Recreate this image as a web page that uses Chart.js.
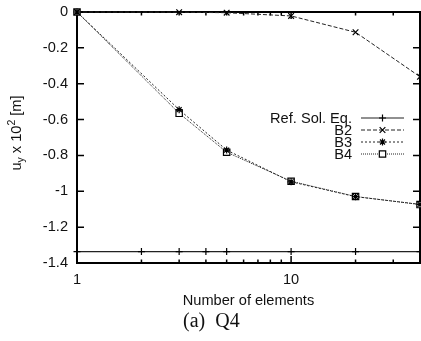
<!DOCTYPE html>
<html>
<head>
<meta charset="utf-8">
<script src="https://cdn.jsdelivr.net/npm/chart.js@4"></script>
<style>
  html, body { margin: 0; padding: 0; background: #fff; }
  canvas { display: block; }
</style>
</head>
<body>
<canvas id="c" width="421" height="341"></canvas>
<script>
// ---- data ----
const xElements = [1, 3, 5, 10, 20, 40];
const refX = [1, 2, 3, 4, 5, 10, 20, 40];
const refY = [-1.336, -1.336, -1.336, -1.336, -1.336, -1.336, -1.336, -1.336];
const b2Y = [0, -0.001, -0.004, -0.022, -0.113, -0.361];
const b3Y = [0, -0.545, -0.770, -0.947, -1.030, -1.073];
const b4Y = [0, -0.565, -0.782, -0.944, -1.029, -1.074];
const seriesLabels = ['Ref. Sol. Eq.', 'B2', 'B3', 'B4'];
const xTickValues = [1, 2, 3, 4, 5, 6, 7, 8, 9, 10, 20, 30, 40];
const xMajorTicks = [1, 10];
const xTickLabels = ['1', '', '', '', '', '', '', '', '', '10', '', '', ''];
const yTickValues = [0, -0.2, -0.4, -0.6, -0.8, -1.0, -1.2, -1.4];
const yTickLabels = ['0', '-0.2', '-0.4', '-0.6', '-0.8', '-1', '-1.2', '-1.4'];
const xTitle = 'Number of elements';
const caption = '(a)  Q4';

const pts = (xs, ys) => xs.map((x, i) => ({ x: x, y: ys[i] }));
const SANS = '"Liberation Sans", Arial, Helvetica, sans-serif';
const SERIF = '"Liberation Serif", "Times New Roman", serif';
const FS = 14.6;
const INK = '#111';
const LINE = '#222';

const frameAndExtras = {
  id: 'frameAndExtras',
  beforeDatasetsDraw(chart) {
    const { ctx, chartArea: a, scales } = chart;
    const xs = scales.x, ys = scales.y;
    ctx.save();
    ctx.strokeStyle = '#000';
    ctx.lineWidth = 1.5;
    ctx.beginPath();
    yTickValues.forEach(v => {
      const py = ys.getPixelForValue(v);
      ctx.moveTo(a.left, py); ctx.lineTo(a.left + 7, py);
      ctx.moveTo(a.right, py); ctx.lineTo(a.right - 7, py);
    });
    xTickValues.forEach(v => {
      const px = xs.getPixelForValue(v);
      const len = xMajorTicks.includes(v) ? 7 : 3.5;
      ctx.moveTo(px, a.bottom); ctx.lineTo(px, a.bottom - len);
      ctx.moveTo(px, a.top); ctx.lineTo(px, a.top + len);
    });
    ctx.stroke();
    ctx.lineWidth = 2;
    ctx.strokeRect(a.left, a.top, a.right - a.left, a.bottom - a.top);
    ctx.restore();
  },
  afterDraw(chart) {
    const { ctx } = chart;
    ctx.save();
    const big = FS + 'px ' + SANS, small = '10.5px ' + SANS;
    const parts = [
      { t: 'u', f: big, dy: 0 },
      { t: 'y', f: small, dy: 3.5 },
      { t: ' x 10', f: big, dy: 0 },
      { t: '2', f: small, dy: -6 },
      { t: ' [m]', f: big, dy: 0 }
    ];
    let total = 0;
    parts.forEach(p => { ctx.font = p.f; p.w = ctx.measureText(p.t).width; total += p.w; });
    ctx.translate(20.5, 133 + total / 2);
    ctx.rotate(-Math.PI / 2);
    ctx.fillStyle = INK;
    ctx.textBaseline = 'alphabetic';
    ctx.textAlign = 'left';
    let cx = 0;
    parts.forEach(p => { ctx.font = p.f; ctx.fillText(p.t, cx, p.dy); cx += p.w; });
    ctx.restore();

    ctx.save();
    ctx.font = '20px ' + SERIF;
    ctx.fillStyle = INK;
    ctx.textAlign = 'left';
    ctx.textBaseline = 'alphabetic';
    ctx.fillText(caption, 183, 327);
    ctx.restore();

    ctx.save();
    const textRight = 352, x0 = 361, x1 = 404, y0 = 118, dy = 12;
    chart.data.datasets.forEach((ds, i) => {
      const y = y0 + i * dy;
      ctx.font = FS + 'px ' + SANS;
      ctx.fillStyle = INK;
      ctx.textAlign = 'right';
      ctx.textBaseline = 'middle';
      ctx.fillText(ds.label, textRight, y + 0.5);
      ctx.strokeStyle = ds.borderColor;
      ctx.lineWidth = ds.borderWidth;
      ctx.setLineDash(ds.borderDash || []);
      ctx.beginPath(); ctx.moveTo(x0, y); ctx.lineTo(x1, y); ctx.stroke();
      ctx.setLineDash([]);
      ctx.lineWidth = ds.pointBorderWidth;
      ctx.strokeStyle = ds.pointBorderColor;
      ctx.fillStyle = ds.pointBackgroundColor;
      Chart.helpers.drawPoint(ctx, { pointStyle: ds.pointStyle, radius: ds.pointRadius, rotation: 0, borderWidth: ds.pointBorderWidth }, (x0 + x1) / 2, y);
    });
    ctx.restore();
  }
};

const common = {
  showLine: true, borderColor: LINE, borderWidth: 1, tension: 0,
  pointBorderColor: '#000', pointBorderWidth: 1.2, pointBackgroundColor: 'rgba(0,0,0,0)',
  clip: false, fill: false
};

new Chart(document.getElementById('c'), {
  type: 'line',
  data: {
    datasets: [
      Object.assign({}, common, { label: seriesLabels[0], data: pts(refX, refY), pointStyle: 'cross', pointRadius: 3.5, borderWidth: 1.2 }),
      Object.assign({}, common, { label: seriesLabels[1], data: pts(xElements, b2Y), borderDash: [4, 2], pointStyle: 'crossRot', pointRadius: 4 }),
      Object.assign({}, common, { label: seriesLabels[2], data: pts(xElements, b3Y), borderDash: [2, 2], pointStyle: 'star', pointRadius: 3.5 }),
      Object.assign({}, common, { label: seriesLabels[3], data: pts(xElements, b4Y), borderDash: [1, 1], pointStyle: 'rect', pointRadius: 4.5, pointBackgroundColor: '#fff' })
    ]
  },
  options: {
    responsive: false,
    animation: false,
    events: [],
    layout: { autoPadding: false, padding: { top: 12, right: 1, left: 0, bottom: 0 } },
    plugins: { legend: { display: false }, tooltip: { enabled: false }, title: { display: false } },
    scales: {
      x: {
        type: 'logarithmic', min: 1, max: 40,
        afterBuildTicks: s => { s.ticks = xTickValues.map(v => ({ value: v })); },
        ticks: {
          autoSkip: false, maxRotation: 0, minRotation: 0, padding: 8,
          font: { family: SANS, size: FS }, color: INK,
          callback: (v) => xTickLabels[xTickValues.indexOf(v)] ?? ''
        },
        grid: { display: false, drawTicks: false },
        border: { display: false },
        title: { display: true, text: xTitle, color: INK, font: { family: SANS, size: FS }, padding: { top: 0, bottom: 31 } },
        afterFit: s => { s.height = 78; s.paddingLeft = 0; s.paddingRight = 0; }
      },
      y: {
        type: 'linear', min: -1.4, max: 0,
        afterBuildTicks: s => { s.ticks = yTickValues.map(v => ({ value: v })); },
        ticks: {
          padding: 9, font: { family: SANS, size: FS }, color: INK,
          callback: (v, i) => yTickLabels[i]
        },
        grid: { display: false, drawTicks: false },
        border: { display: false },
        afterFit: s => { s.width = 77; s.paddingTop = 0; s.paddingBottom = 0; }
      }
    }
  },
  plugins: [frameAndExtras]
});
</script>
</body>
</html>
